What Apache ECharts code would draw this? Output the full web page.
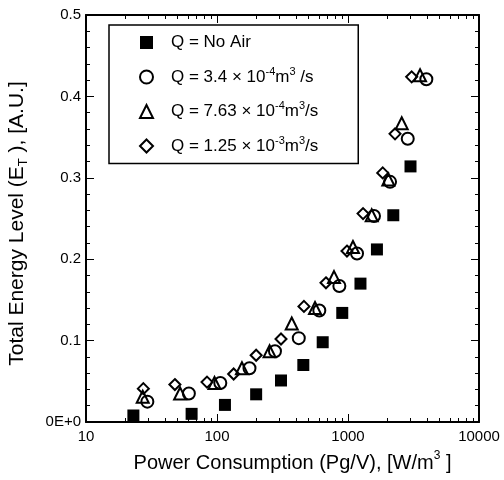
<!DOCTYPE html>
<html><head><meta charset="utf-8">
<script src="https://cdn.jsdelivr.net/npm/echarts@6/dist/echarts.min.js"></script>
<style>html,body{margin:0;padding:0;background:#fff}#c{width:504px;height:480px}</style>
</head><body><div id="c"></div>
<script>
// ---- data ----
const xTickLabels = [10, 100, 1000, 10000];
const xMinorTicks = [20,30,40,50,60,70,80,90,200,300,400,500,600,700,800,900,2000,3000,4000,5000,6000,7000,8000,9000];
const yTicks = [0, 0.1, 0.2, 0.3, 0.4, 0.5];

const noAirX = [23, 64, 115, 199, 308, 456, 641, 904, 1245, 1663, 2217, 3000];
const noAirY = [0.008, 0.010, 0.021, 0.034, 0.051, 0.070, 0.098, 0.134, 0.170, 0.212, 0.254, 0.314];

const q34X = [29.4, 61, 106, 177, 277, 421, 604, 859, 1172, 1579, 2094, 2858, 3963];
const q34Y = [0.025, 0.035, 0.048, 0.066, 0.087, 0.103, 0.137, 0.167, 0.207, 0.253, 0.295, 0.348, 0.421];

const q763X = [27.1, 52.3, 95.7, 155, 252, 372, 560, 782, 1091, 1517, 2032, 2571, 3548];
const q763Y = [0.031, 0.035, 0.048, 0.066, 0.087, 0.121, 0.140, 0.178, 0.215, 0.254, 0.298, 0.367, 0.426];

const q125X = [27.4, 47.7, 83.9, 134, 199, 308, 461, 679, 982, 1303, 1841, 2286, 3062];
const q125Y = [0.041, 0.046, 0.049, 0.059, 0.082, 0.102, 0.142, 0.171, 0.210, 0.256, 0.306, 0.354, 0.424];

const seriesNames = ['noair', 'q34', 'q763', 'q125'];
const legendLabels = {
  noair: '{m|Q = No Air}',
  q34: '{m|Q = 3.4 × 10}{sup|-4}{m|m}{sup|3}{m| /s}',
  q763: '{m|Q = 7.63 × 10}{sup|-4}{m|m}{sup|3}{m|/s}',
  q125: '{m|Q = 1.25 × 10}{sup|-3}{m|m}{sup|3}{m|/s}'
};

const zip = (xs, ys) => xs.map((x, i) => [x, ys[i]]);
const FONT = '"Liberation Sans", Arial, Helvetica, sans-serif';
const black = '#000';

const chart = echarts.init(document.getElementById('c'), null, {renderer: 'canvas'});

const baseX = {
  type: 'log', logBase: 10, min: 10, max: 10000,
  splitLine: {show: false}, minorSplitLine: {show: false}
};

const option = {
  backgroundColor: '#fff',
  animation: false,
  grid: [
    {left: 86, right: 25, top: 15, bottom: 58, containLabel: false, outerBoundsMode: 'none'},
    {left: 86, right: 25, top: 15, bottom: 58, containLabel: false, outerBoundsMode: 'none'}
  ],
  xAxis: [
    Object.assign({}, baseX, {
      gridIndex: 0, position: 'bottom',
      axisLine: {show: true, lineStyle: {color: black, width: 2}},
      axisTick: {show: true, inside: true, length: 8, lineStyle: {color: black, width: 1}},
      axisLabel: {show: true, color: black, fontSize: 15, fontFamily: FONT, margin: 7,
        customValues: xTickLabels, formatter: v => String(Math.round(v))},
      name: '{m|Power Consumption (Pg/V), [W/m}{sup|3}{m| ]}',
      nameLocation: 'middle', nameGap: 28,
      nameTextStyle: {color: black, fontSize: 20, fontFamily: FONT, padding: [0, 0, 0, 20],
        rich: {
          m: {fontSize: 20, fontFamily: FONT, color: black, lineHeight: 26},
          sup: {fontSize: 12, fontFamily: FONT, color: black, verticalAlign: 'top'}
        }}
    }),
    Object.assign({}, baseX, {
      gridIndex: 0, position: 'top',
      axisLine: {show: true, lineStyle: {color: black, width: 2}},
      axisTick: {show: true, inside: true, length: 8, lineStyle: {color: black, width: 1}},
      axisLabel: {show: false}
    }),
    Object.assign({}, baseX, {
      gridIndex: 1, position: 'bottom',
      axisLine: {show: false},
      axisTick: {show: true, inside: true, length: 4, customValues: xMinorTicks, lineStyle: {color: black, width: 1}},
      axisLabel: {show: false}
    }),
    Object.assign({}, baseX, {
      gridIndex: 1, position: 'top',
      axisLine: {show: false},
      axisTick: {show: true, inside: true, length: 4, customValues: xMinorTicks, lineStyle: {color: black, width: 1}},
      axisLabel: {show: false}
    })
  ],
  yAxis: [
    {
      gridIndex: 0, type: 'value', position: 'left', min: 0, max: 0.5, interval: 0.1,
      splitLine: {show: false},
      axisLine: {show: true, lineStyle: {color: black, width: 2}},
      axisTick: {show: true, inside: true, length: 8, lineStyle: {color: black, width: 1}},
      minorTick: {show: true, splitNumber: 5, length: 4, lineStyle: {color: black, width: 1}},
      axisLabel: {color: black, fontSize: 15, fontFamily: FONT, margin: 5,
        formatter: v => (Math.abs(v) < 1e-9 ? '0E+0' : v.toFixed(1))},
      name: '{m|Total Energy Level (E}{sub|T}{m| ), [A.U.]}',
      nameLocation: 'middle', nameGap: 56, nameRotate: 90,
      nameTextStyle: {color: black, fontSize: 21, fontFamily: FONT, padding: [0, 10, 0, 0],
        rich: {
          m: {fontSize: 21, fontFamily: FONT, color: black, lineHeight: 26},
          sub: {fontSize: 13, fontFamily: FONT, color: black, verticalAlign: 'bottom'}
        }}
    },
    {
      gridIndex: 1, type: 'value', position: 'right', min: 0, max: 0.5, interval: 0.1,
      splitLine: {show: false},
      axisLine: {show: true, lineStyle: {color: black, width: 2}},
      axisTick: {show: true, inside: true, length: 8, lineStyle: {color: black, width: 1}},
      minorTick: {show: true, splitNumber: 5, length: 4, lineStyle: {color: black, width: 1}},
      axisLabel: {show: false}
    }
  ],
  legend: {
    orient: 'vertical', left: 109, top: 25,
    data: seriesNames,
    itemWidth: 13, itemHeight: 13, itemGap: 15,
    padding: [9, 40, 9, 30],
    borderColor: black, borderWidth: 1.5,
    selectedMode: false,
    formatter: name => legendLabels[name],
    textStyle: {color: black, fontSize: 17, fontFamily: FONT, padding: [0,0,0,13],
      rich: {
        m: {fontSize: 17, fontFamily: FONT, color: black, lineHeight: 22},
        sup: {fontSize: 11, fontFamily: FONT, color: black, verticalAlign: 'top'}
      }}
  },
  series: [
    {name: 'noair', type: 'scatter', xAxisIndex: 0, yAxisIndex: 0, symbol: 'rect', symbolSize: 12,
      itemStyle: {color: black, borderColor: black, borderWidth: 0, opacity: 1}, data: zip(noAirX, noAirY)},
    {name: 'q34', type: 'scatter', xAxisIndex: 0, yAxisIndex: 0, symbol: 'circle', symbolSize: 12,
      itemStyle: {color: 'rgba(255,255,255,0)', borderColor: black, borderWidth: 2, opacity: 1}, data: zip(q34X, q34Y)},
    {name: 'q763', type: 'scatter', xAxisIndex: 0, yAxisIndex: 0, symbol: 'triangle', symbolSize: 12,
      itemStyle: {color: 'rgba(255,255,255,0)', borderColor: black, borderWidth: 2, opacity: 1}, data: zip(q763X, q763Y)},
    {name: 'q125', type: 'scatter', xAxisIndex: 0, yAxisIndex: 0, symbol: 'diamond', symbolSize: 11,
      itemStyle: {color: 'rgba(255,255,255,0)', borderColor: black, borderWidth: 2, opacity: 1}, data: zip(q125X, q125Y)}
  ]
};
chart.setOption(option);
</script>
</body></html>
